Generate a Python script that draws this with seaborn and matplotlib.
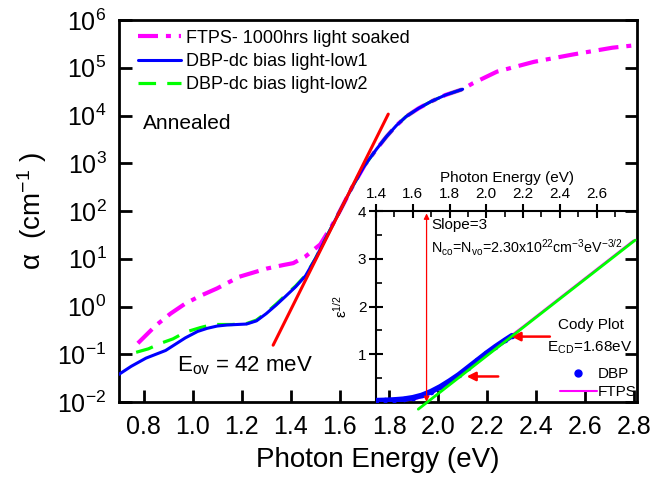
import matplotlib
matplotlib.use('Agg')
import matplotlib.pyplot as plt
import seaborn as sns
from matplotlib.lines import Line2D
from matplotlib.ticker import FixedLocator, NullLocator, FormatStrFormatter

# absorption spectra (photon energy in eV, alpha in cm^-1)
ftps_energy = [0.777, 0.85, 0.91, 0.97, 1.03, 1.10, 1.19, 1.30, 1.37, 1.41, 1.46, 1.52, 1.57, 1.60,
               1.65, 1.70, 1.75, 1.79, 1.83, 1.87, 1.92, 1.97, 2.03, 2.10, 2.14, 2.24, 2.39, 2.55, 2.71, 2.80]
ftps_alpha = [0.17, 0.40, 0.71, 1.15, 1.66, 2.4, 4.2, 6.2, 7.4, 8.1, 11.2, 20, 52, 100,
              316, 890, 2000, 3630, 6170, 9550, 14100, 19500, 26900, 35500, 46800, 83000, 133000, 190000, 263000, 295000]

low1_energy = [0.70, 0.75, 0.81, 0.89, 0.97, 1.02, 1.06, 1.10, 1.14, 1.22, 1.26, 1.30, 1.34, 1.38, 1.42, 1.46,
               1.50, 1.55, 1.60, 1.65, 1.70, 1.75, 1.79, 1.83, 1.87, 1.92, 1.97, 2.03, 2.10]
low1_alpha = [0.038, 0.056, 0.083, 0.12, 0.22, 0.30, 0.35, 0.39, 0.41, 0.43, 0.50, 0.71, 1.07, 1.66, 2.6, 4.4,
              10, 32, 100, 316, 890, 2000, 3630, 6170, 9550, 14100, 19500, 26900, 35500]

low2_energy = [0.77, 0.82, 0.87, 0.92, 0.97, 1.03, 1.08, 1.16, 1.22, 1.26, 1.30, 1.34, 1.38, 1.42, 1.46,
               1.50, 1.55, 1.60, 1.65, 1.70, 1.75, 1.79, 1.83, 1.87, 1.92, 1.97, 2.03, 2.10]
low2_alpha = [0.11, 0.13, 0.17, 0.21, 0.29, 0.36, 0.42, 0.42, 0.44, 0.52, 0.74, 1.12, 1.75, 2.7, 4.5,
              10, 32, 100, 316, 890, 2000, 3630, 6170, 9550, 14100, 19500, 26900, 35500]

# urbach tangent
urbach_energy = [1.328, 1.797]
urbach_alpha = [0.155, 10700]

# cody plot (inset)
cody_dbp_energy = [1.40, 1.45, 1.50, 1.55, 1.60, 1.65, 1.70, 1.75, 1.80, 1.85, 1.90, 1.95, 2.00, 2.05, 2.10, 2.14]
cody_dbp_eps = [0.03, 0.035, 0.045, 0.06, 0.09, 0.14, 0.22, 0.32, 0.44, 0.57, 0.72, 0.87, 1.02, 1.16, 1.29, 1.39]
cody_ftps_energy = [1.40, 1.50, 1.60, 1.65, 1.70, 1.75, 1.80, 1.90, 2.00, 2.20, 2.40, 2.60, 2.80]
cody_ftps_eps = [0.01, 0.015, 0.05, 0.10, 0.18, 0.30, 0.43, 0.72, 1.00, 1.58, 2.18, 2.78, 3.38]
cody_fit_energy = [1.63, 2.81]
cody_fit_eps = [-0.15, 3.39]

MAGENTA = '#FF00FF'
BLUE = '#0000FF'
GREEN = '#00FF00'
RED = '#FF0000'

sns.set_theme(style='ticks')
plt.rcParams['font.family'] = ['Liberation Sans', 'DejaVu Sans']
plt.rcParams['mathtext.fontset'] = 'custom'
plt.rcParams['mathtext.rm'] = 'Liberation Sans'
plt.rcParams['mathtext.it'] = 'Liberation Sans:italic'
plt.rcParams['mathtext.bf'] = 'Liberation Sans:bold'
plt.rcParams['mathtext.default'] = 'regular'
for key in ['text.color', 'axes.labelcolor', 'xtick.color', 'ytick.color', 'axes.edgecolor']:
    plt.rcParams[key] = 'black'

fig = plt.figure(figsize=(6.68, 4.87), dpi=100)
ax = fig.add_axes([0.1781, 0.1745, 0.7754, 0.7844])
ax.set_yscale('log')

sns.lineplot(x=ftps_energy, y=ftps_alpha, ax=ax, color=MAGENTA, lw=3,
             linestyle=(0, (4.8, 1.9, 1.2, 1.9)), label='FTPS- 1000hrs light soaked', zorder=2)
sns.lineplot(x=low2_energy, y=low2_alpha, ax=ax, color=GREEN, lw=2.3,
             linestyle=(0, (5.5, 3.5)), label='DBP-dc bias light-low2', zorder=3)
sns.lineplot(x=low1_energy, y=low1_alpha, ax=ax, color=BLUE, lw=2.2,
             label='DBP-dc bias light-low1', zorder=4)
sns.lineplot(x=urbach_energy, y=urbach_alpha, ax=ax, color=RED, lw=2.2, zorder=5)

ax.set_xlim(0.7, 2.81)
ax.set_ylim(1e-2, 1e6)
ax.xaxis.set_major_locator(FixedLocator([0.8, 1.0, 1.2, 1.4, 1.6, 1.8, 2.0, 2.2, 2.4, 2.6, 2.8]))
ax.xaxis.set_major_formatter(FormatStrFormatter('%.1f'))
ax.yaxis.set_major_locator(FixedLocator([10.0 ** k for k in range(-2, 7)]))
ax.yaxis.set_minor_locator(NullLocator())
ax.xaxis.set_minor_locator(NullLocator())
ax.tick_params(axis='both', which='major', direction='in', length=9, width=2,
               labelsize=18, pad=9, right=True, top=False, color='black')
for s in ax.spines.values():
    s.set_linewidth(2)
ax.set_xlabel('Photon Energy (eV)', fontsize=20, labelpad=6)
ax.set_ylabel('α  (cm$^{-1}$ )', fontsize=20, labelpad=6)

h, l = ax.get_legend_handles_labels()
order = [l.index('FTPS- 1000hrs light soaked'), l.index('DBP-dc bias light-low1'), l.index('DBP-dc bias light-low2')]
ax.legend([h[i] for i in order], [l[i] for i in order], loc='upper left', bbox_to_anchor=(0.036, 0.975),
          frameon=False, fontsize=13, handlelength=2.4, handletextpad=0.3, labelspacing=0.35,
          borderpad=0, borderaxespad=0)

ax.text(0.796, 6800, 'Annealed', fontsize=15, ha='left', va='center')
ax.text(0.935, 0.059, 'E$_{ov}$ = 42 meV', fontsize=16, ha='left', va='center')

# inset: cody plot
ins = fig.add_axes([0.5629, 0.1745, 0.3907, 0.3922], facecolor='none')
sns.lineplot(x=cody_ftps_energy, y=cody_ftps_eps, ax=ins, color=MAGENTA, lw=1.5, zorder=2)
sns.lineplot(x=cody_dbp_energy, y=cody_dbp_eps, ax=ins, color=BLUE, lw=4, zorder=3,
             marker='o', markersize=4, markeredgewidth=0)
line_fit = sns.lineplot(x=cody_fit_energy, y=cody_fit_eps, ax=ins, color=GREEN, lw=2, zorder=4).lines[-1]
line_fit.set_clip_on(False)

ins.set_xlim(1.4, 2.82)
ins.set_ylim(0, 4)
ins.xaxis.tick_top()
ins.xaxis.set_label_position('top')
ins.xaxis.set_major_locator(FixedLocator([1.4, 1.6, 1.8, 2.0, 2.2, 2.4, 2.6]))
ins.xaxis.set_minor_locator(FixedLocator([1.5, 1.7, 1.9, 2.1, 2.3, 2.5, 2.7]))
ins.xaxis.set_major_formatter(FormatStrFormatter('%.1f'))
ins.yaxis.set_major_locator(FixedLocator([1, 2, 3, 4]))
ins.yaxis.set_minor_locator(FixedLocator([0.5, 1.5, 2.5, 3.5]))
ins.tick_params(which='major', direction='inout', length=10, width=1.5, labelsize=11, pad=2)
ins.tick_params(which='minor', direction='in', length=4, width=1.2)
ins.tick_params(axis='x', which='both', top=True, bottom=False)
ins.spines['bottom'].set_visible(False)
ins.spines['right'].set_visible(False)
for s in ['left', 'top']:
    ins.spines[s].set_linewidth(1.5)
ins.set_xlabel('Photon Energy (eV)', fontsize=11, labelpad=4)
ins.set_ylabel('ε$^{1/2}$', fontsize=11, labelpad=6)

ins.annotate('', xy=(1.675, 3.95), xytext=(1.675, 0.0),
             arrowprops=dict(arrowstyle='<|-|>', color=RED, lw=0.9, mutation_scale=8, shrinkA=0, shrinkB=0))
ins.annotate('', xy=(2.137, 1.37), xytext=(2.346, 1.37),
             arrowprops=dict(arrowstyle='-|>', color=RED, lw=1.8, mutation_scale=13, shrinkA=0, shrinkB=0))
ins.annotate('', xy=(1.893, 0.535), xytext=(2.065, 0.535),
             arrowprops=dict(arrowstyle='-|>', color=RED, lw=1.8, mutation_scale=13, shrinkA=0, shrinkB=0))

ins.text(1.70, 3.70, 'Slope=3', fontsize=11, ha='left', va='center')
ins.text(1.70, 3.22, 'N$_{co}$=N$_{vo}$=2.30x10$^{22}$cm$^{-3}$eV$^{-3/2}$', fontsize=10.3, ha='left', va='center')
ins.text(2.39, 1.62, 'Cody Plot', fontsize=11, ha='left', va='center')
ins.text(2.33, 1.13, 'E$_{CD}$=1.68eV', fontsize=11, ha='left', va='center')

cody_handles = [Line2D([], [], color=BLUE, marker='o', markersize=5, linestyle='none'),
                Line2D([], [], color=MAGENTA, lw=1.5)]
ins.legend(cody_handles, ['DBP', 'FTPS'], loc='lower right', bbox_to_anchor=(1.0, 0.016),
           frameon=False, fontsize=11, handlelength=2.4, handletextpad=0.1, labelspacing=0.25,
           borderpad=0, borderaxespad=0)

fig.savefig('out.png', dpi=100)
